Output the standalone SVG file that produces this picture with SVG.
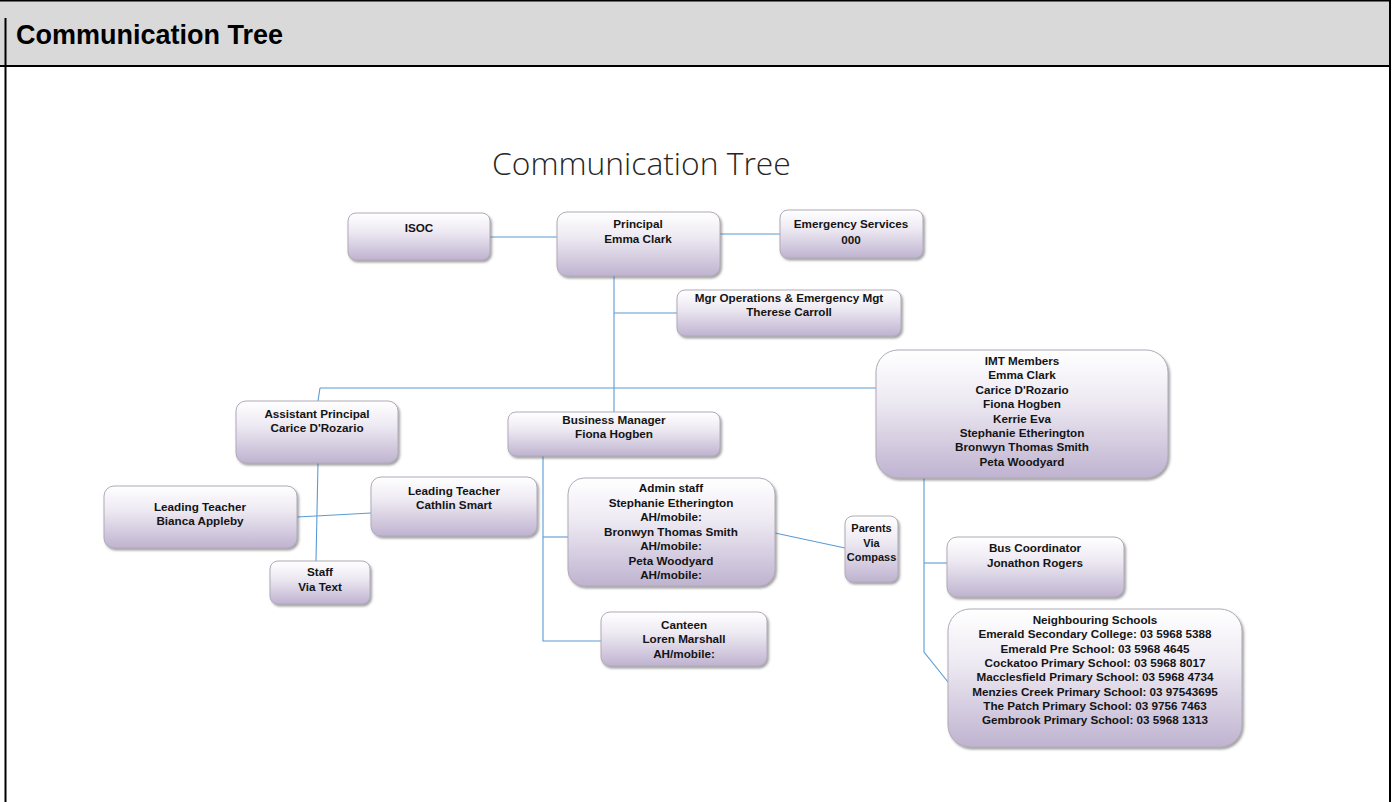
<svg xmlns="http://www.w3.org/2000/svg" width="1392" height="802" viewBox="0 0 1392 802">
<defs>
<linearGradient id="g" x1="0" y1="0" x2="0" y2="1">
<stop offset="0" stop-color="#ffffff"/>
<stop offset="0.4" stop-color="#ede9f2"/>
<stop offset="1" stop-color="#bfb3d0"/>
</linearGradient>
<filter id="sh" x="-10%" y="-10%" width="130%" height="140%">
<feDropShadow dx="1.5" dy="2" stdDeviation="1.2" flood-color="#555" flood-opacity="0.55"/>
</filter>
<style>
.box{fill:url(#g);stroke:#b0aab8;stroke-width:1;filter:url(#sh)}
.t{font-family:"Liberation Sans",Arial,sans-serif;font-size:11.7px;font-weight:bold;fill:#141414;text-anchor:middle}
.c{fill:none;stroke:#5b9bd5;stroke-width:1.1}
</style>
</defs>
<rect x="0" y="0" width="1392" height="802" fill="#ffffff"/>
<g id="frame">
<rect x="0" y="0" width="1390" height="66" fill="#d9d9d9"/>
<line x1="0" y1="0.8" x2="1391" y2="0.8" stroke="#000" stroke-width="1.6"/>
<line x1="0" y1="66" x2="1391" y2="66" stroke="#000" stroke-width="2"/>
<line x1="5.5" y1="18" x2="5.5" y2="802" stroke="#000" stroke-width="2"/>
<line x1="1390" y1="0" x2="1390" y2="802" stroke="#000" stroke-width="2"/>
<text x="16" y="44" font-family="Liberation Sans,Arial,sans-serif" font-size="27" font-weight="bold" fill="#000">Communication Tree</text>
</g>
<text id="title" x="492" y="175" font-family="Open Sans,Liberation Sans,sans-serif" font-size="31.8" font-weight="300" fill="#262626">Communication Tree</text>
<g id="connectors">
<line class="c" x1="490" y1="237" x2="557" y2="237"/>
<line class="c" x1="720" y1="234" x2="780" y2="234"/>
<line class="c" x1="614" y1="276" x2="614" y2="412"/>
<line class="c" x1="614" y1="313" x2="677" y2="313"/>
<line class="c" x1="320" y1="388" x2="876" y2="388"/>
<polyline class="c" points="320,388 318,401"/>
<line class="c" x1="318" y1="463" x2="316" y2="561"/>
<polyline class="c" points="297,517 316,516 371,513"/>
<polyline class="c" points="543,456 543,641 601,641"/>
<line class="c" x1="543" y1="537" x2="568" y2="537"/>
<line class="c" x1="775" y1="533" x2="845" y2="548"/>
<polyline class="c" points="924,478 924,652 948,682"/>
<line class="c" x1="924" y1="563" x2="947" y2="563"/>
</g>
<g id="isoc"><rect class="box" x="348" y="213" width="142" height="47" rx="8"/><text class="t" x="419" y="232">ISOC</text></g>
<g id="principal"><rect class="box" x="557" y="212" width="163" height="64" rx="10"/><text class="t" x="638" y="228">Principal</text><text class="t" x="638" y="243">Emma Clark</text></g>
<g id="emergency"><rect class="box" x="780" y="210" width="143" height="48" rx="8"/><text class="t" x="851" y="228">Emergency Services</text><text class="t" x="851" y="244">000</text></g>
<g id="mgrops"><rect class="box" x="677" y="290" width="224" height="46" rx="8"/><text class="t" x="789" y="302">Mgr Operations &amp; Emergency Mgt</text><text class="t" x="789" y="316">Therese Carroll</text></g>
<g id="imt"><rect class="box" x="876" y="350" width="292" height="128" rx="22"/>
<text class="t" x="1022" y="365">IMT Members</text>
<text class="t" x="1022" y="379.4">Emma Clark</text>
<text class="t" x="1022" y="393.8">Carice D'Rozario</text>
<text class="t" x="1022" y="408.2">Fiona Hogben</text>
<text class="t" x="1022" y="422.6">Kerrie Eva</text>
<text class="t" x="1022" y="437">Stephanie Etherington</text>
<text class="t" x="1022" y="451.4">Bronwyn Thomas Smith</text>
<text class="t" x="1022" y="465.8">Peta Woodyard</text></g>
<g id="assistant"><rect class="box" x="236" y="401" width="162" height="62" rx="10"/><text class="t" x="317" y="418">Assistant Principal</text><text class="t" x="317" y="432">Carice D'Rozario</text></g>
<g id="bianca"><rect class="box" x="104" y="486" width="193" height="62" rx="10"/><text class="t" x="200" y="511">Leading Teacher</text><text class="t" x="200" y="525">Bianca Appleby</text></g>
<g id="cathlin"><rect class="box" x="371" y="477" width="166" height="59" rx="10"/><text class="t" x="454" y="495">Leading Teacher</text><text class="t" x="454" y="509">Cathlin Smart</text></g>
<g id="staff"><rect class="box" x="270" y="561" width="100" height="43" rx="8"/><text class="t" x="320" y="576">Staff</text><text class="t" x="320" y="591">Via Text</text></g>
<g id="business"><rect class="box" x="508" y="412" width="212" height="44" rx="8"/><text class="t" x="614" y="424">Business Manager</text><text class="t" x="614" y="438">Fiona Hogben</text></g>
<g id="admin"><rect class="box" x="568" y="478" width="207" height="108" rx="16"/>
<text class="t" x="671" y="492">Admin staff</text>
<text class="t" x="671" y="506.5">Stephanie Etherington</text>
<text class="t" x="671" y="521">AH/mobile:</text>
<text class="t" x="671" y="535.5">Bronwyn Thomas Smith</text>
<text class="t" x="671" y="550">AH/mobile:</text>
<text class="t" x="671" y="564.5">Peta Woodyard</text>
<text class="t" x="671" y="579">AH/mobile:</text></g>
<g id="parents"><rect class="box" x="845" y="516" width="53" height="66" rx="8"/><text class="t" x="871.5" y="532" style="font-size:11px">Parents</text><text class="t" x="871.5" y="547" style="font-size:11px">Via</text><text class="t" x="871.5" y="561" style="font-size:11px">Compass</text></g>
<g id="canteen"><rect class="box" x="601" y="612" width="166" height="54" rx="9"/><text class="t" x="684" y="629">Canteen</text><text class="t" x="684" y="643">Loren Marshall</text><text class="t" x="684" y="658">AH/mobile:</text></g>
<g id="bus"><rect class="box" x="947" y="537" width="177" height="60" rx="10"/><text class="t" x="1035" y="552">Bus Coordinator</text><text class="t" x="1035" y="567">Jonathon Rogers</text></g>
<g id="schools"><rect class="box" x="948" y="609" width="294" height="138" rx="22"/>
<text class="t" x="1095" y="624">Neighbouring Schools</text>
<text class="t" x="1095" y="638.3">Emerald Secondary College: 03 5968 5388</text>
<text class="t" x="1095" y="652.6">Emerald Pre School: 03 5968 4645</text>
<text class="t" x="1095" y="666.9">Cockatoo Primary School: 03 5968 8017</text>
<text class="t" x="1095" y="681.2">Macclesfield Primary School: 03 5968 4734</text>
<text class="t" x="1095" y="695.5">Menzies Creek Primary School: 03 97543695</text>
<text class="t" x="1095" y="709.8">The Patch Primary School: 03 9756 7463</text>
<text class="t" x="1095" y="724.1">Gembrook Primary School: 03 5968 1313</text></g>
</svg>
